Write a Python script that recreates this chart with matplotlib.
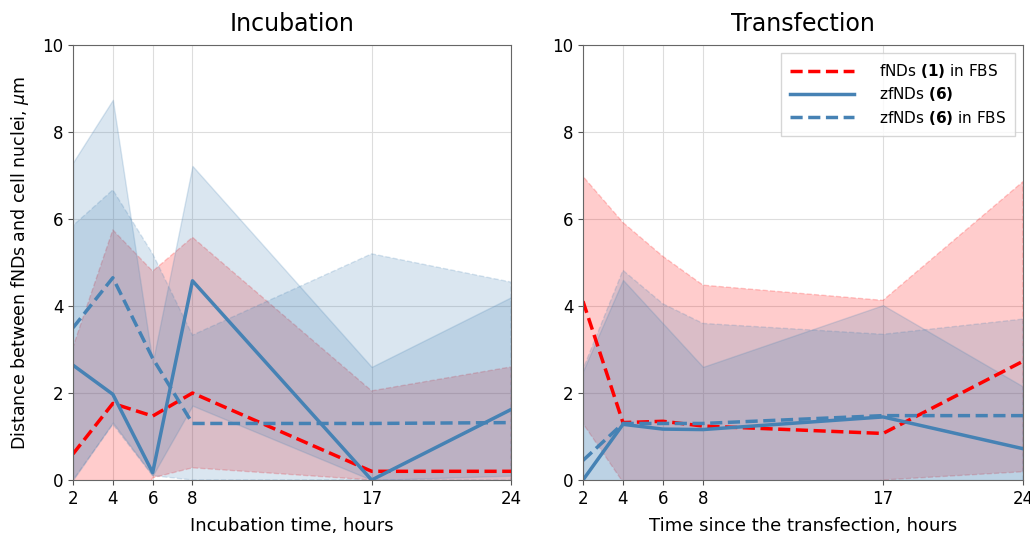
import matplotlib.pyplot as plt

hours = [2, 4, 6, 8, 17, 24]

# Incubation panel
inc_fnd1_fbs = [0.6, 1.76, 1.47, 2.0, 0.2, 0.2]
inc_fnd1_fbs_lo = [-1.9, -2.2, 0.05, 0.28, 0.0, -0.3]
inc_fnd1_fbs_hi = [3.06, 5.75, 4.8, 5.58, 2.05, 2.6]

inc_zfnd6 = [2.64, 1.97, 0.17, 4.58, 0.0, 1.62]
inc_zfnd6_lo = [0.0, 1.32, 0.1, 1.71, 0.0, 0.1]
inc_zfnd6_hi = [7.3, 8.74, 2.7, 7.22, 2.6, 4.2]

inc_zfnd6_fbs = [3.5, 4.65, 2.8, 1.3, 1.3, 1.32]
inc_zfnd6_fbs_lo = [0.0, 1.28, 0.1, 0.0, 0.0, 0.0]
inc_zfnd6_fbs_hi = [5.85, 6.67, 5.2, 3.33, 5.2, 4.55]

# Transfection panel
tr_fnd1_fbs = [4.11, 1.32, 1.35, 1.24, 1.07, 2.73]
tr_fnd1_fbs_lo = [1.3, -0.05, -0.5, -0.8, 0.0, 0.19]
tr_fnd1_fbs_hi = [6.98, 5.92, 5.14, 4.48, 4.13, 6.86]

tr_zfnd6 = [0.0, 1.28, 1.17, 1.16, 1.45, 0.72]
tr_zfnd6_lo = [-2.5, -2.0, -1.2, -0.3, -1.1, -0.7]
tr_zfnd6_hi = [2.5, 4.6, 3.6, 2.6, 4.02, 2.15]

tr_zfnd6_fbs = [0.45, 1.3, 1.3, 1.3, 1.48, 1.48]
tr_zfnd6_fbs_lo = [-1.6, -2.2, -1.4, -1.0, -0.4, -0.7]
tr_zfnd6_fbs_hi = [2.55, 4.82, 4.05, 3.6, 3.35, 3.7]

RED = "#ff0000"
BLUE = "#4682b4"

fig = plt.figure(figsize=(10.3, 5.35), dpi=100)
ax1 = fig.add_axes([0.0709, 0.1028, 0.4252, 0.813])
ax2 = fig.add_axes([0.566, 0.1028, 0.4272, 0.813])


def draw_series(ax, y, lo, hi, color, ls, label):
    ax.fill_between(hours, lo, hi, color=color, alpha=0.2, linestyle=ls,
                    linewidth=1, edgecolor=color)
    ax.plot(hours, y, color=color, linestyle=ls, linewidth=2.5, label=label,
            dashes=(3.5, 1.6) if ls == "--" else (None, None))


def style(ax, title, xlabel):
    ax.set_xlim(2, 24)
    ax.set_ylim(0, 10)
    ax.set_xticks(hours)
    ax.set_yticks(range(0, 11, 2))
    ax.grid(True, color="#dddddd", linewidth=0.8)
    ax.set_axisbelow(True)
    ax.tick_params(labelsize=12, color="#555555")
    for sp in ax.spines.values():
        sp.set_color("#666666")
    ax.set_title(title, fontsize=17, pad=10)
    ax.set_xlabel(xlabel, fontsize=13, labelpad=7)


draw_series(ax1, inc_fnd1_fbs, inc_fnd1_fbs_lo, inc_fnd1_fbs_hi, RED, "--",
            r"fNDs $\mathbf{(1)}$ in FBS")
draw_series(ax1, inc_zfnd6, inc_zfnd6_lo, inc_zfnd6_hi, BLUE, "-",
            r"zfNDs $\mathbf{(6)}$")
draw_series(ax1, inc_zfnd6_fbs, inc_zfnd6_fbs_lo, inc_zfnd6_fbs_hi, BLUE, "--",
            r"zfNDs $\mathbf{(6)}$ in FBS")
style(ax1, "Incubation", "Incubation time, hours")
ax1.set_ylabel(r"Distance between fNDs and cell nuclei, $\mu$m", fontsize=12.5,
               labelpad=8)

draw_series(ax2, tr_fnd1_fbs, tr_fnd1_fbs_lo, tr_fnd1_fbs_hi, RED, "--",
            r"fNDs $\mathbf{(1)}$ in FBS")
draw_series(ax2, tr_zfnd6, tr_zfnd6_lo, tr_zfnd6_hi, BLUE, "-",
            r"zfNDs $\mathbf{(6)}$")
draw_series(ax2, tr_zfnd6_fbs, tr_zfnd6_fbs_lo, tr_zfnd6_fbs_hi, BLUE, "--",
            r"zfNDs $\mathbf{(6)}$ in FBS")
style(ax2, "Transfection", "Time since the transfection, hours")

leg = ax2.legend(loc="upper right", fontsize=11, handlelength=4.2,
                 fancybox=False, edgecolor="#cccccc", borderpad=0.6,
                 handletextpad=1.6, labelspacing=0.35)

fig.savefig("out.png", dpi=100)
